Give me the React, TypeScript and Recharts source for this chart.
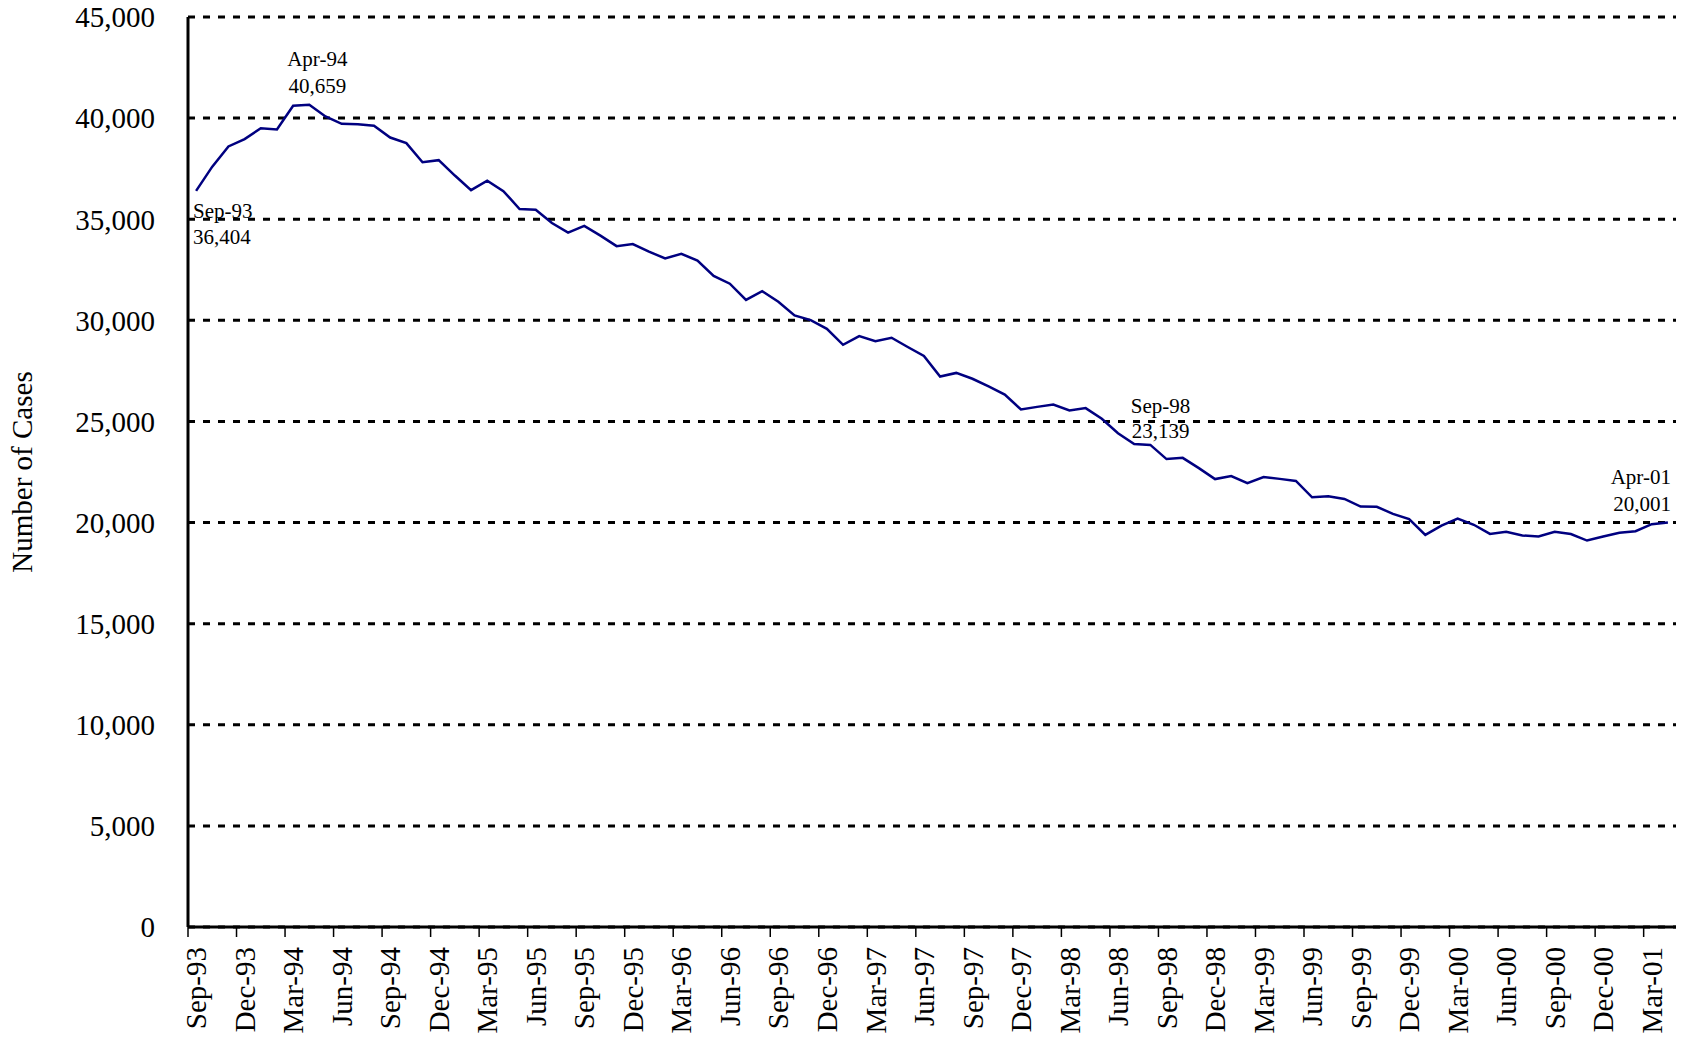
import React from 'react';
import { LineChart, Line, XAxis, YAxis, CartesianGrid, LabelList } from 'recharts';

const MONTH_NAMES = ['Jan', 'Feb', 'Mar', 'Apr', 'May', 'Jun', 'Jul', 'Aug', 'Sep', 'Oct', 'Nov', 'Dec'];
const START_YEAR = 1993;
const START_MONTH = 8; // Sep

// monthly caseload, Sep-93 .. Apr-01
const CASES = [
  36404, 37600, 38600, 38960, 39500, 39440, 40610, 40659, 40080, 39720, 39700, 39620,
  39040, 38760, 37820, 37920, 37160, 36440, 36910, 36390, 35500, 35470, 34810, 34340,
  34670, 34190, 33670, 33770, 33400, 33060, 33290, 32960, 32200, 31810, 31010, 31440,
  30920, 30240, 30010, 29580, 28790, 29220, 28970, 29140, 28680, 28240, 27220, 27400,
  27110, 26730, 26330, 25590, 25720, 25840, 25540, 25660, 25130, 24420, 23880, 23840,
  23139, 23200, 22690, 22150, 22300, 21950, 22250, 22160, 22060, 21250, 21300, 21170,
  20790, 20780, 20430, 20170, 19390, 19850, 20200, 19890, 19440, 19540, 19360, 19310,
  19540, 19430, 19110, 19310, 19500, 19570, 19920, 20001,
];

const Y_TICKS = [0, 5000, 10000, 15000, 20000, 25000, 30000, 35000, 40000, 45000];

const ANNOTATED = ['Sep-93', 'Apr-94', 'Sep-98', 'Apr-01'];

const MONTHS = CASES.map((_, i) => {
  const m = START_MONTH + i;
  const yr = START_YEAR + Math.floor(m / 12);
  return `${MONTH_NAMES[m % 12]}-${String(yr % 100).padStart(2, '0')}`;
});

const data = MONTHS.map((month, i) => ({ month, cases: CASES[i] }));

const FONT = '"Liberation Serif", "Times New Roman", serif';
const fmt = (v: number) => v.toLocaleString('en-US');

// where each annotation sits relative to its point
const LABEL_PLACE: Record<string, { dx: number; dy1: number; dy2: number; anchor: 'start' | 'middle' | 'end' }> = {
  'Sep-93': { dx: -3, dy1: 20, dy2: 46, anchor: 'start' },
  'Apr-94': { dx: 8, dy1: -46, dy2: -19, anchor: 'middle' },
  'Sep-98': { dx: -6, dy1: -53, dy2: -28, anchor: 'middle' },
  'Apr-01': { dx: 3, dy1: -46, dy2: -19, anchor: 'end' },
};

const PointLabel = (props: any) => {
  const { x, y, index, value } = props;
  const month = MONTHS[index];
  if (!ANNOTATED.includes(month)) return null;
  const p = LABEL_PLACE[month];
  return (
    <g fontFamily={FONT} fontSize={21} fill="#000">
      <text x={x + p.dx} y={y + p.dy1} textAnchor={p.anchor} dominantBaseline="central">{month}</text>
      <text x={x + p.dx} y={y + p.dy2} textAnchor={p.anchor} dominantBaseline="central">{fmt(value)}</text>
    </g>
  );
};

const MonthTick = (props: any) => {
  const { x, y, payload } = props;
  const half = payload.offset ?? 8;
  return (
    <g>
      <line x1={x - half} x2={x - half} y1={y} y2={y + 10} stroke="#000" strokeWidth={1.5} />
      <text
        x={x}
        y={y + 20}
        transform={`rotate(-90 ${x} ${y + 20})`}
        textAnchor="end"
        dy="0.35em"
        fontFamily={FONT}
        fontSize={29}
        fill="#000"
      >
        {payload.value}
      </text>
    </g>
  );
};

const AxisTitle = (props: any) => {
  const { viewBox } = props;
  const cx = 22;
  const cy = viewBox.y + viewBox.height / 2;
  return (
    <text
      x={cx}
      y={cy}
      transform={`rotate(-90 ${cx} ${cy})`}
      textAnchor="middle"
      dominantBaseline="central"
      fontFamily={FONT}
      fontSize={29}
      fill="#000"
    >
      Number of Cases
    </text>
  );
};

export default function App() {
  return (
    <div style={{ position: 'absolute', left: 0, top: 0, width: 1684, height: 1044, background: '#fff' }}>
      <LineChart width={1684} height={1044} data={data} margin={{ top: 17, right: 8, bottom: 0, left: 0 }}>
        <CartesianGrid horizontal vertical={false} stroke="#000" strokeWidth={3} strokeDasharray="7 8" />
        <XAxis
          dataKey="month"
          scale="band"
          interval={2}
          height={117}
          tickSize={0}
          tickMargin={0}
          tickLine={false}
          tick={<MonthTick />}
          axisLine={{ stroke: '#000', strokeWidth: 3 }}
        />
        <XAxis
          xAxisId="top"
          orientation="top"
          dataKey="month"
          scale="band"
          height={0}
          tick={false}
          tickLine={false}
          axisLine={{ stroke: '#000', strokeWidth: 1.5 }}
        />
        <YAxis
          domain={[0, 45000]}
          ticks={Y_TICKS}
          width={188}
          tickSize={0}
          tickMargin={33}
          tickLine={false}
          tickFormatter={fmt}
          tick={{ fontFamily: FONT, fontSize: 29, fill: '#000' }}
          axisLine={{ stroke: '#000', strokeWidth: 3 }}
          label={<AxisTitle />}
        />
        <YAxis
          yAxisId="right"
          orientation="right"
          domain={[0, 45000]}
          width={0}
          tick={false}
          tickLine={false}
          axisLine={{ stroke: '#000', strokeWidth: 2 }}
        />
        <Line
          type="linear"
          dataKey="cases"
          stroke="#000080"
          strokeWidth={2.5}
          dot={false}
          isAnimationActive={false}
        >
          <LabelList dataKey="cases" content={<PointLabel />} />
        </Line>
      </LineChart>
    </div>
  );
}
